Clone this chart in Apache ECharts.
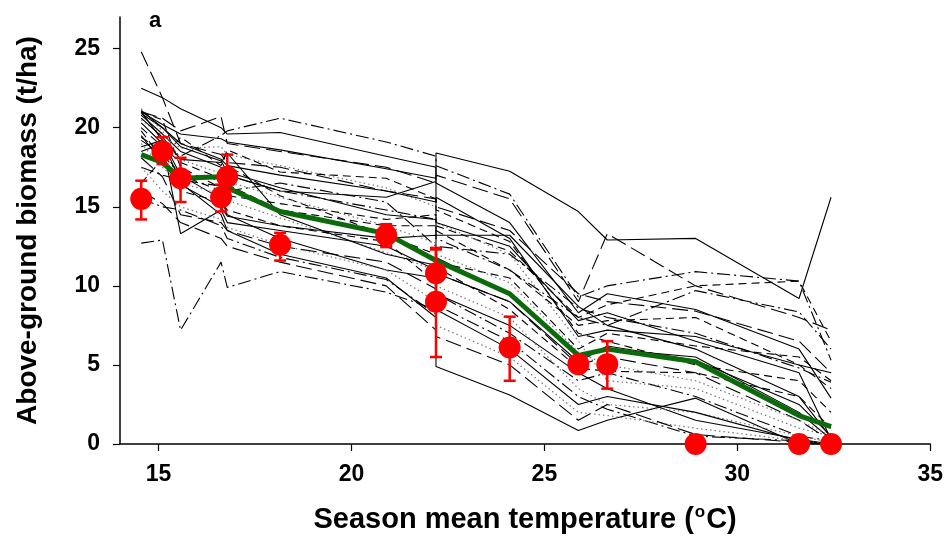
<!DOCTYPE html>
<html>
<head>
<meta charset="utf-8">
<script src="https://cdn.jsdelivr.net/npm/echarts@6.0.0/dist/echarts.min.js"></script>
<style>
  html, body { margin: 0; padding: 0; background: #fff; }
  #chart { width: 946px; height: 539px; }
</style>
</head>
<body>
<div id="chart"></div>
<script>
// Site season mean temperatures (°C), ordered from coolest to warmest
const siteTemp = [14.55, 15.1, 15.57, 16.62, 16.78, 18.15, 20.9, 22.19, 22.19, 24.1, 25.88, 26.63, 28.92, 31.6, 32.43];

// Observed above-ground biomass (t/ha) with lower / upper error limits
const observed = [15.5, 18.5, 16.8, 15.6, 16.9, 12.6, 13.2, 10.8, 9.0, 6.1, 5.05, 5.05, 0, 0, 0];
const obsLow   = [14.2, 17.7, 15.3, 14.7, 16.0, 11.6, 12.45, 9.3, 5.5, 4.0, null, 3.5, null, null, null];
const obsHigh  = [16.65, 19.4, 18.1, 16.4, 18.3, 13.35, 13.9, 12.4, 12.3, 8.05, null, 6.5, null, null, null];

// Ensemble mean of the simulated biomass
const ensembleMean = [18.3, 17.8, 16.8, 16.9, 16.2, 14.7, 13.3, 11.6, 11.6, 9.5, 5.6, 6.0, 5.2, 1.8, 1.1];

// Simulated biomass of each crop model at the sites
const modelRuns = [
  [21.0, 20.2, 19.6, 19.3, 19.1, 18.6, 17.4, 16.8, 18.4, 17.25, 14.7, 12.9, 13.0, 9.2, 15.6],
  [19.5, 17.8, 16.4, 15.0, 14.4, 13.8, 13.0, 13.2, 4.9, 3.1, 0.85, 1.5, 2.9, 0.0, 0.0],
  [20.8, 19.6, 18.5, 17.5, 17.0, 16.0, 15.6, 16.6, 13.2, 13.2, 8.7, 7.5, 6.0, 3.0, 0.4],
  [24.8, 21.9, 19.0, 18.3, 17.8, 17.5, 16.0, 15.5, 15.0, 13.5, 9.5, 9.0, 8.4, 6.5, 4.5],
  [18.5, 19.0, 18.2, 19.5, 19.8, 20.6, 19.1, 18.2, 17.6, 15.8, 9.3, 10.0, 10.9, 10.3, 5.3],
  [12.7, 12.9, 7.2, 11.5, 9.9, 10.9, 9.6, 8.5, 9.5, 7.0, 4.0, 4.5, 3.0, 0.5, 0.2],
  [22.5, 21.9, 21.2, 20.0, 19.6, 19.7, 18.2, 17.5, 16.5, 14.0, 8.3, 9.5, 8.5, 6.0, 2.9],
  [21.0, 20.5, 17.5, 16.2, 15.7, 15.2, 14.2, 14.5, 13.8, 12.2, 8.0, 8.8, 10.0, 10.3, 6.5],
  [20.5, 19.5, 18.7, 18.8, 18.3, 17.6, 16.2, 15.0, 14.0, 12.0, 6.5, 4.0, 3.5, 1.0, 0.5],
  [21.0, 19.2, 17.0, 15.5, 14.5, 13.0, 11.0, 10.5, 9.5, 7.5, 4.5, 3.5, 1.5, 0.3, 0.0],
  [19.4, 18.5, 17.0, 16.0, 17.6, 15.7, 13.2, 12.0, 11.5, 10.5, 6.0, 7.0, 6.2, 5.5, 4.0],
  [20.9, 20.0, 18.8, 17.9, 17.2, 16.2, 14.5, 14.2, 14.0, 12.5, 7.8, 8.3, 6.5, 4.5, 0.3],
  [19.0, 17.5, 16.5, 15.8, 15.4, 14.3, 12.1, 11.0, 10.0, 8.0, 3.5, 2.5, 2.0, 0.5, 0.1],
  [17.5, 17.0, 16.7, 16.3, 16.0, 16.5, 15.3, 12.5, 12.4, 12.0, 8.6, 8.0, 7.0, 4.8, 3.9],
  [18.1, 16.9, 14.5, 14.0, 13.5, 12.5, 11.5, 9.8, 10.8, 9.0, 5.0, 5.5, 4.5, 1.5, 0.2],
  [20.3, 19.0, 13.3, 14.8, 14.0, 13.5, 12.5, 11.0, 11.8, 9.5, 5.5, 6.0, 5.5, 2.0, 0.3],
  [16.5, 18.0, 19.4, 17.6, 18.6, 17.2, 16.8, 15.5, 14.8, 12.8, 7.0, 6.5, 5.0, 4.0, 2.0],
  [21.2, 19.8, 18.0, 17.1, 16.6, 15.6, 13.8, 12.7, 12.0, 10.2, 5.8, 5.0, 4.0, 1.5, 0.5],
  [18.8, 19.2, 16.5, 14.5, 13.5, 12.0, 10.5, 8.0, 8.5, 6.0, 2.5, 3.0, 2.0, 0.2, 0.0],
  [21.0, 20.6, 19.8, 20.7, 19.0, 18.5, 17.5, 16.5, 17.0, 15.5, 9.0, 13.3, 10.0, 8.0, 7.2],
  [15.5, 15.0, 14.8, 13.8, 13.0, 11.8, 10.4, 8.2, 8.8, 6.5, 3.0, 2.2, 0.5, 0.2, 0.0],
  [20.0, 18.8, 17.8, 16.8, 16.4, 14.8, 13.8, 13.8, 13.5, 11.0, 7.5, 7.8, 8.0, 5.0, 3.5],
  [21.1, 20.0, 19.0, 18.0, 17.6, 17.0, 16.0, 15.3, 15.6, 13.0, 6.8, 7.2, 6.8, 5.0, 4.5],
  [17.5, 16.0, 15.0, 14.2, 13.7, 12.6, 11.0, 9.0, 7.5, 5.5, 2.0, 1.8, 1.0, 0.2, 0.0],
  [19.8, 18.0, 16.0, 15.3, 14.8, 13.8, 12.8, 10.2, 11.2, 8.5, 4.8, 4.6, 4.5, 3.0, 1.0],
  [20.6, 19.4, 18.0, 17.8, 18.4, 14.5, 12.0, 11.3, 10.8, 9.0, 5.2, 6.2, 5.3, 2.5, 0.5],
  [16.0, 15.2, 14.0, 13.0, 12.5, 11.5, 10.0, 7.2, 6.8, 5.0, 1.5, 2.5, 0.6, 0.1, 0.0],
  [19.2, 18.3, 17.0, 16.7, 17.0, 16.0, 14.8, 14.2, 13.0, 11.0, 8.0, 7.5, 9.7, 8.35, 6.0]
];

// Line pattern used for each model run
const runPattern = [
  'solid', 'solid', 'solid', 'longdash', 'dashdot', 'dashdot', 'solid', 'dash',
  'dot', 'solid', 'dash', 'solid', 'dot', 'dashdot', 'longdash', 'solid',
  'dash', 'dot', 'solid', 'longdash', 'dashdot', 'dash', 'solid', 'dot',
  'dash', 'solid', 'longdash', 'dashdot'
];

const xTicks = [15, 20, 25, 30, 35];
const yTicks = [0, 5, 10, 15, 20, 25];

const patterns = {
  solid:    { type: 'solid',       color: '#000', width: 1.1 },
  dash:     { type: [8, 5],        color: '#000', width: 1.1 },
  longdash: { type: [16, 6],       color: '#000', width: 1.1 },
  dashdot:  { type: [13, 4, 2, 4], color: '#000', width: 1.1 },
  dot:      { type: [1.5, 3],      color: '#777', width: 1.2 }
};

const FONT = '"Liberation Sans", Arial, Helvetica, sans-serif';

const chart = echarts.init(document.getElementById('chart'), null, { renderer: 'canvas' });

const pair = (vals) => siteTemp.map((t, i) => [t, vals[i]]);

const modelSeries = modelRuns.map((run, k) => {
  const p = patterns[runPattern[k]];
  return {
    type: 'line',
    data: pair(run),
    symbol: 'none',
    silent: true,
    z: 2,
    lineStyle: { color: p.color, width: p.width, type: p.type }
  };
});

const errData = siteTemp
  .map((t, i) => [t, obsLow[i], obsHigh[i]])
  .filter(d => d[1] != null && d[2] != null);

const option = {
  backgroundColor: '#fff',
  animation: false,
  grid: { left: 120, right: 13, top: 17, bottom: 95, containLabel: false },
  xAxis: {
    type: 'value',
    min: 14,
    max: 35,
    name: '{t|Season mean temperature (}{s|o}{t|C)}',
    nameLocation: 'middle',
    nameGap: 60,
    nameTextStyle: {
      rich: {
        t: { fontFamily: FONT, fontWeight: 'bold', fontSize: 29, color: '#000' },
        s: { fontFamily: FONT, fontWeight: 'bold', fontSize: 17, color: '#000', verticalAlign: 'top', padding: [0, 1, 14, 1] }
      }
    },
    axisLine: { show: true, onZero: false, lineStyle: { color: '#000', width: 1.5 } },
    axisTick: { show: true, inside: false, length: 7, customValues: xTicks, lineStyle: { color: '#000', width: 1.2 } },
    axisLabel: {
      customValues: xTicks,
      margin: 19,
      fontFamily: FONT, fontWeight: 'bold', fontSize: 23, color: '#000'
    },
    splitLine: { show: false }
  },
  yAxis: {
    type: 'value',
    min: 0,
    max: 27,
    name: 'Above-ground biomass (t/ha)',
    nameLocation: 'middle',
    nameGap: 78,
    nameRotate: 90,
    nameTextStyle: { fontFamily: FONT, fontWeight: 'bold', fontSize: 28, color: '#000' },
    axisLine: { show: true, onZero: false, lineStyle: { color: '#000', width: 1.5 } },
    axisTick: { show: true, inside: false, length: 7, customValues: yTicks, lineStyle: { color: '#000', width: 1.2 } },
    axisLabel: {
      customValues: yTicks,
      margin: 20,
      fontFamily: FONT, fontWeight: 'bold', fontSize: 23, color: '#000'
    },
    splitLine: { show: false }
  },
  graphic: [{
    type: 'text',
    left: 149,
    top: 10,
    style: { text: 'a', font: 'bold 22px ' + FONT, fill: '#000' }
  }],
  series: [
    ...modelSeries,
    {
      type: 'line',
      data: pair(ensembleMean),
      symbol: 'none',
      silent: true,
      z: 5,
      lineStyle: { color: '#0b6b0b', width: 5 }
    },
    {
      type: 'custom',
      data: errData,
      z: 6,
      silent: true,
      clip: false,
      renderItem: (params, api) => {
        const x = api.value(0);
        const lo = api.coord([x, api.value(1)]);
        const hi = api.coord([x, api.value(2)]);
        const half = 6;
        const st = { stroke: '#ff0000', lineWidth: 2.5 };
        return {
          type: 'group',
          children: [
            { type: 'line', shape: { x1: lo[0], y1: lo[1], x2: hi[0], y2: hi[1] }, style: st },
            { type: 'line', shape: { x1: lo[0] - half, y1: lo[1], x2: lo[0] + half, y2: lo[1] }, style: st },
            { type: 'line', shape: { x1: hi[0] - half, y1: hi[1], x2: hi[0] + half, y2: hi[1] }, style: st }
          ]
        };
      }
    },
    {
      type: 'scatter',
      data: pair(observed),
      symbol: 'circle',
      symbolSize: 22,
      clip: false,
      silent: true,
      z: 7,
      itemStyle: { color: '#ff0000', opacity: 1 }
    }
  ]
};

chart.setOption(option);
</script>
</body>
</html>
